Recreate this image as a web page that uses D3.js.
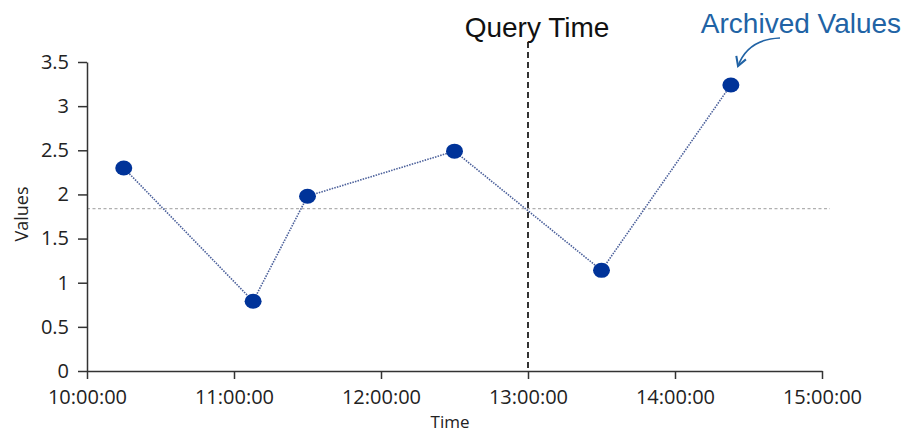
<!DOCTYPE html>
<html><head><meta charset="utf-8">
<script src="https://cdn.jsdelivr.net/npm/d3@7"></script>
<style>body{margin:0;background:#fff;} svg{display:block;font-family:"Liberation Sans",Arial,sans-serif;}</style>
</head><body>
<svg id="c" width="909" height="435"></svg>
<script>
// Data (time in hours of day)
const times = [10.25, 11.13, 11.5, 12.5, 13.5, 14.38];
const values = [2.30, 0.79, 1.98, 2.49, 1.14, 3.24];
const xTicks = [10, 11, 12, 13, 14, 15];
const xTickLabels = ["10:00:00","11:00:00","12:00:00","13:00:00","14:00:00","15:00:00"];
const yTicks = [0, 0.5, 1, 1.5, 2, 2.5, 3, 3.5];
const queryTime = [13];
const queryValue = [1.84];

const svg = d3.select("#c");
const x = d3.scaleLinear().domain([10, 15]).range([87, 822]);
const y = d3.scaleLinear().domain([0, 3.5]).range([371, 62]);

// horizontal interpolated value line
svg.append("line")
  .attr("x1", x(10)).attr("x2", 830)
  .attr("y1", y(queryValue[0])).attr("y2", y(queryValue[0]))
  .attr("stroke", "#b0b0b0").attr("stroke-width", 1.3).attr("stroke-dasharray", "3,2.5");

// query time vertical
svg.append("line")
  .attr("x1", x(queryTime[0])).attr("x2", x(queryTime[0]))
  .attr("y1", 42).attr("y2", y(0))
  .attr("stroke", "#333").attr("stroke-width", 2).attr("stroke-dasharray", "6,4");

// axes
const xAxis = d3.axisBottom(x).tickValues(xTicks).tickFormat((d,i)=>xTickLabels[i]).tickSize(8).tickSizeOuter(0).tickPadding(11);
const gx = svg.append("g").attr("transform", `translate(0,${y(0)})`).call(xAxis);
const yAxis = d3.axisLeft(y).tickValues(yTicks).tickFormat(d3.format("")).tickSize(9).tickSizeOuter(0).tickPadding(9);
const gy = svg.append("g").attr("transform", `translate(${x(10)},0)`).call(yAxis);
[gx, gy].forEach(g => {
  g.selectAll("path,line").attr("stroke", "#333").attr("stroke-width", 1.5);
  g.selectAll("text").attr("font-size", 20).attr("fill", "#222").attr("font-family", "'Open Sans','Liberation Sans',sans-serif");
});

// axis titles
svg.append("text").attr("x", 450).attr("y", 428).attr("text-anchor", "middle")
  .attr("font-size", 17).attr("fill", "#222").attr("font-family", "'Open Sans',sans-serif").text("Time");
svg.append("text").attr("transform", "translate(28,214) rotate(-90)").attr("text-anchor", "middle")
  .attr("font-size", 18).attr("fill", "#222").attr("font-family", "'Open Sans',sans-serif").text("Values");

// data line
const line = d3.line().x((d,i)=>x(times[i])).y(d=>y(d));
svg.append("path").attr("d", line(values)).attr("fill", "none")
  .attr("stroke", "#4a5f9a").attr("stroke-width", 1.6).attr("stroke-dasharray", "1.5,1.2");

// points
svg.selectAll("ellipse.pt").data(values).join("ellipse").attr("class","pt")
  .attr("cx", (d,i)=>x(times[i])).attr("cy", d=>y(d))
  .attr("rx", 8.5).attr("ry", 7.5).attr("fill", "#003399");

// annotations
svg.append("text").attr("x", 537).attr("y", 37).attr("text-anchor", "middle")
  .attr("font-size", 28).attr("fill", "#111").text("Query Time");
svg.append("text").attr("x", 801).attr("y", 33).attr("text-anchor", "middle")
  .attr("font-size", 28).attr("fill", "#2163a5").text("Archived Values");

svg.append("defs").append("marker").attr("id","ah").attr("viewBox","0 0 10 10")
  .attr("refX", 8).attr("refY", 5).attr("markerWidth", 8).attr("markerHeight", 8).attr("orient","auto")
  .append("path").attr("d","M1,1 L8,5 L1,9").attr("fill","none").attr("stroke","#2163a5").attr("stroke-width",1.6);
svg.append("path").attr("d", "M780,38 Q748,39 738,66").attr("fill","none")
  .attr("stroke","#2163a5").attr("stroke-width",1.6).attr("marker-end","url(#ah)");
</script>
</body></html>
